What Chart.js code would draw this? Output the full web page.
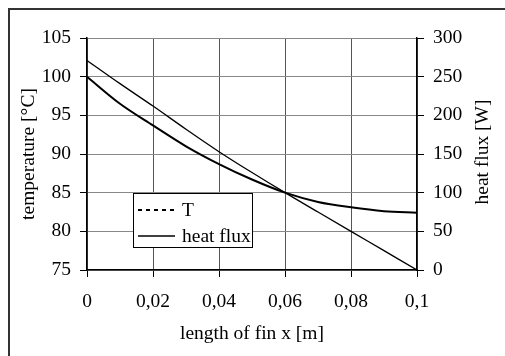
<!DOCTYPE html>
<html>
<head>
<meta charset="utf-8">
<script src="https://cdn.jsdelivr.net/npm/chart.js@4"></script>
<style>
    html, body { margin: 0; padding: 0; background: #fff; }
    #wrap { width: 505px; height: 356px; position: relative; }
</style>
</head>
<body>
<div id="wrap"><canvas id="myChart"></canvas></div>
<script>
const xValues = [0, 0.01, 0.02, 0.03, 0.04, 0.05, 0.06, 0.07, 0.08, 0.09, 0.1];
const tempValues = [100, 96.5, 93.7, 91.0, 88.7, 86.7, 85.0, 83.8, 83.1, 82.6, 82.4];
const fluxValues = [271, 241, 212, 182, 153, 126, 100, 75, 50, 25, 0];
const xTickLabels = ['0', '0,02', '0,04', '0,06', '0,08', '0,1'];
const tempTicks = [75, 80, 85, 90, 95, 100, 105];
const fluxTicks = [0, 50, 100, 150, 200, 250, 300];
const fluxTitle = 'heat flux [W]';

const fontFamily = '"Liberation Serif", "Times New Roman", serif';
const fontSize = 19.5;

const frameAndLegend = {
    id: 'frameAndLegend',
    afterDatasetsDraw(chart) {
        const ctx = chart.ctx;
        ctx.save();
        // outer frame
        ctx.strokeStyle = '#333';
        ctx.lineWidth = 2;
        ctx.beginPath();
        ctx.moveTo(9, 360);
        ctx.lineTo(9, 9);
        ctx.lineTo(510, 9);
        ctx.stroke();

        ctx.font = fontSize + 'px ' + fontFamily;
        ctx.fillStyle = '#000';

        // right axis title, reading bottom to top like the left one
        const area = chart.chartArea;
        ctx.save();
        ctx.translate(483, (area.top + area.bottom) / 2 - 2);
        ctx.rotate(-Math.PI / 2);
        ctx.textAlign = 'center';
        ctx.textBaseline = 'middle';
        ctx.fillText(fluxTitle, 0, 0);
        ctx.restore();

        // legend box inside the plot
        const left = 133, top = 193, w = 119, h = 54;
        ctx.fillStyle = '#fff';
        ctx.fillRect(left, top, w, h);
        ctx.strokeStyle = '#000';
        ctx.lineWidth = 1;
        ctx.strokeRect(left + 0.5, top + 0.5, w, h);

        ctx.fillStyle = '#000';
        ctx.textBaseline = 'middle';
        chart.data.datasets.forEach((ds, i) => {
            const cy = top + 17 + i * 26;
            ctx.beginPath();
            ctx.lineWidth = i === 0 ? 2 : 1.3;
            ctx.setLineDash(i === 0 ? [4, 4] : []);
            ctx.moveTo(138, cy);
            ctx.lineTo(175, cy);
            ctx.stroke();
            ctx.setLineDash([]);
            ctx.fillText(ds.label, 182, cy + 1);
        });
        ctx.restore();
    }
};

document.addEventListener('DOMContentLoaded', function () {
    const ctx = document.getElementById('myChart').getContext('2d');
    const tickFont = { family: fontFamily, size: fontSize };

    new Chart(ctx, {
        type: 'line',
        data: {
            datasets: [{
                label: 'T',
                data: xValues.map((v, i) => ({ x: v, y: tempValues[i] })),
                yAxisID: 'yT',
                borderColor: '#000',
                borderWidth: 2,
                pointRadius: 0,
                cubicInterpolationMode: 'monotone'
            }, {
                label: 'heat flux',
                data: xValues.map((v, i) => ({ x: v, y: fluxValues[i] })),
                yAxisID: 'yQ',
                borderColor: '#000',
                borderWidth: 1.3,
                pointRadius: 0,
                cubicInterpolationMode: 'monotone'
            }]
        },
        options: {
            responsive: true,
            maintainAspectRatio: false,
            animation: false,
            layout: { padding: { top: 38, left: 0, right: 0, bottom: 0 } },
            plugins: {
                legend: { display: false },
                tooltip: { enabled: false }
            },
            scales: {
                x: {
                    type: 'linear',
                    min: 0,
                    max: 0.1,
                    afterFit: s => { s.height = 86; },
                    afterBuildTicks: s => {
                        s.ticks = xTickLabels.map((t, i) => ({ value: i * 0.02 }));
                    },
                    ticks: {
                        color: '#000',
                        font: tickFont,
                        padding: 13,
                        maxRotation: 0,
                        callback: (v, i) => xTickLabels[i]
                    },
                    grid: { color: '#555', tickLength: 7, tickColor: '#000' },
                    border: { color: '#000', width: 1.5 },
                    title: {
                        display: true,
                        text: 'length of fin x [m]',
                        color: '#000',
                        font: tickFont,
                        padding: { top: 0, bottom: 10 }
                    }
                },
                yT: {
                    type: 'linear',
                    position: 'left',
                    min: 75,
                    max: 105,
                    afterFit: s => { s.width = 87; },
                    afterBuildTicks: s => {
                        s.ticks = tempTicks.map(v => ({ value: v }));
                    },
                    ticks: { color: '#000', font: tickFont, padding: 9 },
                    grid: { color: '#888', tickLength: 7, tickColor: '#000' },
                    border: { color: '#000', width: 1.5 },
                    title: {
                        display: true,
                        text: 'temperature [°C]',
                        color: '#000',
                        font: tickFont,
                        padding: { top: 17, bottom: 0 }
                    }
                },
                yQ: {
                    type: 'linear',
                    position: 'right',
                    min: 0,
                    max: 300,
                    afterFit: s => { s.width = 88; },
                    afterBuildTicks: s => {
                        s.ticks = fluxTicks.map(v => ({ value: v }));
                    },
                    ticks: { color: '#000', font: tickFont, padding: 9 },
                    grid: { drawOnChartArea: false, tickLength: 7, color: '#000' },
                    border: { color: '#000', width: 1.5 },
                    title: { display: false }
                }
            }
        },
        plugins: [frameAndLegend]
    });
});
</script>
</body>
</html>
